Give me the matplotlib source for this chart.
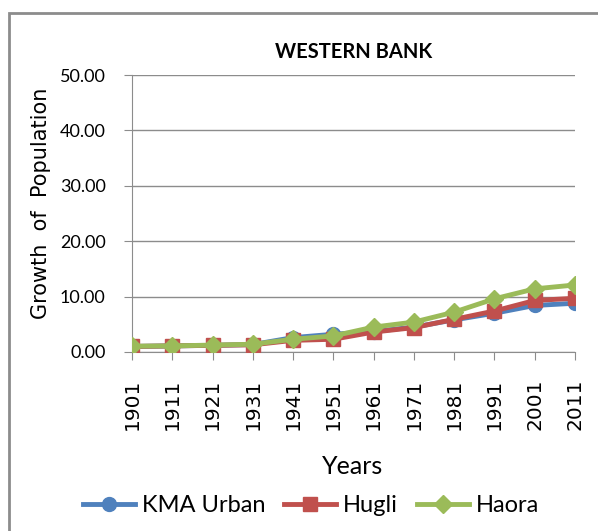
import matplotlib.pyplot as plt
from matplotlib.patches import Rectangle

# ===================== DATA =====================
years = [1901, 1911, 1921, 1931, 1941, 1951, 1961, 1971, 1981, 1991, 2001, 2011]
kma_urban = [1.00, 1.10, 1.20, 1.35, 2.60, 3.20, 3.70, 4.50, 5.80, 7.00, 8.40, 8.80]
hugli = [1.00, 1.10, 1.20, 1.30, 2.10, 2.30, 3.60, 4.40, 5.90, 7.40, 9.30, 9.70]
haora = [1.05, 1.10, 1.25, 1.40, 2.30, 2.90, 4.50, 5.40, 7.20, 9.60, 11.40, 12.10]

y_ticks = [0, 10, 20, 30, 40, 50]

BLUE = '#4F81BD'
RED = '#C0504D'
GREEN = '#9BBB59'
GRAY = '#8c8c8c'

plt.rcParams['font.family'] = ['Lato', 'DejaVu Sans']

fig = plt.figure(figsize=(5.98, 5.31), dpi=100)
W, H = 598, 531
ax = fig.add_axes([132 / W, 1 - 352 / H, (575 - 132) / W, (352 - 75) / H])

# outer chart border (only left and top are in view)
fig.patches.append(Rectangle((9 / W, -0.1), 1.2, (1 - 13 / H) + 0.1,
                             transform=fig.transFigure, fill=False,
                             edgecolor=GRAY, linewidth=2))

ax.plot(years, kma_urban, color=BLUE, lw=3.5, marker='o', ms=10, label='KMA Urban', zorder=3)
ax.plot(years, hugli, color=RED, lw=3.5, marker='s', ms=9.5, label='Hugli', zorder=4)
ax.plot(years, haora, color=GREEN, lw=3.5, marker='D', ms=9, label='Haora', zorder=5)

ax.set_xlim(1901, 2011)
ax.set_ylim(0, 50)
ax.set_xticks(years)
ax.set_xticklabels([str(y) for y in years], rotation=90, fontsize=14.5, family='DejaVu Sans')
ax.set_yticks(y_ticks)
ax.set_yticklabels([f'{v:.2f}' for v in y_ticks], fontsize=13)
ax.grid(axis='y', color=GRAY, lw=1)
ax.set_axisbelow(True)
for s in ['top', 'right']:
    ax.spines[s].set_visible(False)
for s in ['left', 'bottom']:
    ax.spines[s].set_color(GRAY)
ax.tick_params(axis='both', direction='out', length=6, color=GRAY)
ax.tick_params(axis='y', pad=13)
ax.tick_params(axis='x', pad=13)

ax.set_title('WESTERN BANK', fontsize=14.5, fontweight='bold', pad=12)
fig.text(41 / W, 1 - 203 / H, 'Growth  of  Population', rotation=90, fontsize=15,
         family='DejaVu Sans', ha='center', va='center')
fig.text(353 / W, 1 - 467 / H, 'Years', fontsize=18, ha='center', va='center')

fig.legend(loc='center', bbox_to_anchor=(311 / W, 1 - 506 / H), ncol=3, frameon=False,
           fontsize=17, handlelength=2.2, columnspacing=0.8, handletextpad=0.3)

fig.savefig('out.png', dpi=100)
